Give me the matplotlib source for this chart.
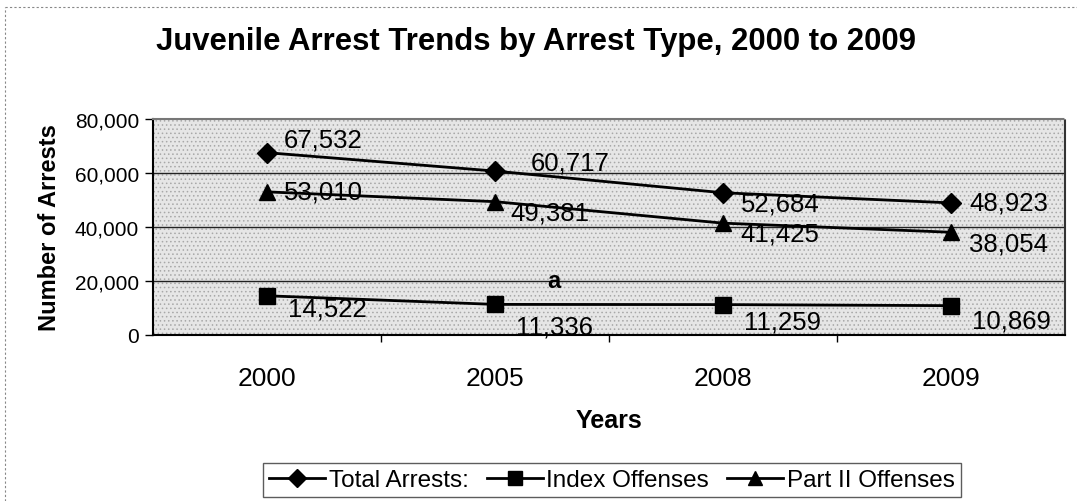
import matplotlib
matplotlib.use("Agg")
import matplotlib.pyplot as plt
from matplotlib.patches import Rectangle
from matplotlib.lines import Line2D
from matplotlib.ticker import FuncFormatter, FixedLocator

plt.rcParams['font.family'] = ['Liberation Sans', 'DejaVu Sans']

years = ["2000", "2005", "2008", "2009"]
total_arrests = [67532, 60717, 52684, 48923]
index_offenses = [14522, 11336, 11259, 10869]
part2_offenses = [53010, 49381, 41425, 38054]

# label offsets in pixels (dx, dy) relative to each marker
total_offsets = [(56, 13), (75, 9), (57, -11), (58, 0)]
index_offsets = [(60, -13), (59, -22), (59, -17), (60, -15)]
part2_offsets = [(56, 0), (55, -11), (57, -10), (58, -11)]

fig = plt.figure(figsize=(10.77, 5.02), dpi=100)
ax = fig.add_axes([153 / 1077, 1 - 336 / 502, 912 / 1077, 216 / 502])

x = list(range(len(years)))

# stippled grey background
ax.set_facecolor('#e6e6e6')
plt.rcParams['hatch.linewidth'] = 0.6
ax.add_patch(Rectangle((0, 0), 1, 1, transform=ax.transAxes, facecolor='none',
                       edgecolor='#a8a8a8', hatch='....', linewidth=0, zorder=0))

for v in [20000, 40000, 60000]:
    ax.axhline(v, color='#222222', linewidth=1.0, zorder=1)

series = [
    (total_arrests, 'D', 10, total_offsets, "Total Arrests:"),
    (index_offenses, 's', 11, index_offsets, "Index Offenses"),
    (part2_offenses, '^', 11, part2_offsets, "Part II Offenses"),
]
handles = []
for vals, mk, ms, offs, name in series:
    line, = ax.plot(x, vals, color='black', linewidth=2.0, marker=mk,
                    markersize=ms, markerfacecolor='black', markeredgecolor='black',
                    zorder=3, label=name)
    handles.append(line)
    for xi, v, (dx, dy) in zip(x, vals, offs):
        ax.annotate(f"{v:,}", (xi, v), xytext=(dx, dy), textcoords='offset pixels',
                    ha='center', va='center', fontsize=18.5, color='black', zorder=4)

ax.text(1.26, 20000, "a", ha='center', va='center', fontsize=17,
        fontweight='bold', zorder=4)

ax.set_xlim(-0.5, len(years) - 0.5)
ax.set_ylim(0, 80000)
ax.set_yticks([0, 20000, 40000, 60000, 80000])
ax.yaxis.set_major_formatter(FuncFormatter(lambda v, p: f"{int(v):,}"))
ax.set_xticks(x)
ax.set_xticklabels(years)
ax.xaxis.set_minor_locator(FixedLocator([0.5, 1.5, 2.5]))
ax.tick_params(axis='x', which='major', length=0, labelsize=19, pad=22)
ax.tick_params(axis='x', which='minor', length=5, width=1, direction='out')
ax.tick_params(axis='y', length=6, width=1, direction='out', labelsize=15, pad=4)

ax.spines['left'].set_linewidth(1.5)
ax.spines['bottom'].set_linewidth(1.5)
ax.spines['top'].set_color('#777777')
ax.spines['top'].set_linestyle((0, (2, 1)))
ax.spines['top'].set_linewidth(1.5)
ax.spines['right'].set_color('#333333')
ax.spines['right'].set_linestyle((0, (1, 1)))
ax.spines['right'].set_linewidth(1.5)

ax.set_ylabel("Number of Arrests", fontsize=17, fontweight='bold', labelpad=10)
ax.set_xlabel("Years", fontsize=18, fontweight='bold', labelpad=13)

fig.text(536 / 1077, 1 - 42 / 502, "Juvenile Arrest Trends by Arrest Type, 2000 to 2009",
         ha='center', va='center', fontsize=22.4, fontweight='bold')

leg = fig.legend(handles=handles, loc='center', bbox_to_anchor=(612 / 1077, 1 - 481 / 502),
                 ncol=3, fontsize=17.5, frameon=True, fancybox=False, handlelength=2.3,
                 handletextpad=0.15, columnspacing=0.75, borderpad=0.25,
                 borderaxespad=0, edgecolor='#333333', markerscale=0.9)
leg.get_frame().set_linewidth(1.0)

# faint outer border of the original chart
fig.add_artist(Line2D([5 / 1077, 5 / 1077], [0.0, 1 - 8 / 502], color='#888888',
                      linestyle=(0, (2, 2)), linewidth=0.8))
fig.add_artist(Line2D([5 / 1077, 1.0], [1 - 8 / 502, 1 - 8 / 502], color='#888888',
                      linestyle=(0, (2, 2)), linewidth=0.8))

fig.savefig("out.png", dpi=100)
